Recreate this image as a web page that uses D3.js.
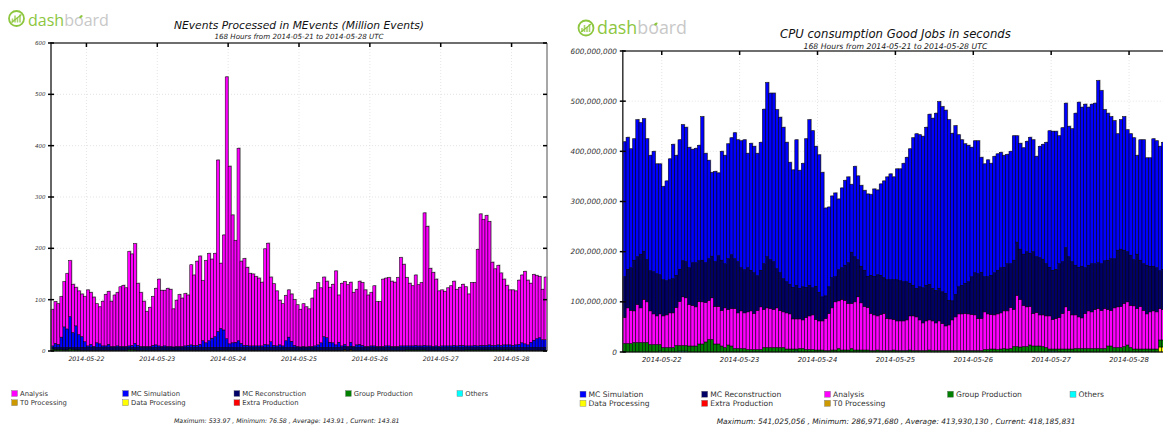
<!DOCTYPE html>
<html>
<head>
<meta charset="utf-8">
<script src="https://cdn.jsdelivr.net/npm/d3@7"></script>
<style>
body{margin:0;background:#fff;}
svg{display:block;}
text{font-family:"DejaVu Sans",sans-serif;}
</style>
</head>
<body>
<svg id="chart" width="1163" height="427"></svg>
<script>
// 168 hourly bins, 2014-05-21 12:00 -> 2014-05-28 12:00 UTC
var startHour = "2014-05-21T12:00:00Z";
var nbHours = 168;
var dayLabels = ["2014-05-22","2014-05-23","2014-05-24","2014-05-25","2014-05-26","2014-05-27","2014-05-28"];

// ---- NEvents (MEvents) ----
var leftAnalysis = [
 71,81,79,79,88,108,109,94,75,85,83,88,109,101,96,76,72,87,100,103,88,100,104,116,
 119,114,184,178,194,121,105,88,68,76,95,110,130,109,108,113,111,74,90,101,94,102,98,156,
 137,164,172,117,160,170,154,162,334,127,185,510,346,249,198,375,160,169,152,141,140,135,132,124,
 186,198,126,120,107,87,82,88,92,92,89,81,73,83,78,73,94,109,121,107,116,110,107,114,
 144,92,122,122,120,117,105,108,123,122,110,100,104,117,87,87,131,132,133,127,125,134,172,159,
 133,122,117,137,119,123,258,233,151,144,130,108,109,106,113,117,125,110,113,119,115,101,123,122,
 188,256,245,253,240,162,149,155,141,128,116,107,108,105,125,132,141,126,115,128,123,119,98,122];
var leftSim = [
 3,8,6,20,40,36,60,29,42,25,21,11,3,6,2,9,7,3,3,6,2,2,3,2,
 2,2,3,4,8,4,2,2,2,2,4,5,3,2,3,2,2,1,2,2,2,3,4,5,
 4,4,6,13,9,13,18,21,31,37,34,17,7,9,10,13,8,4,4,3,3,3,3,3,
 6,5,11,4,3,5,3,13,20,12,4,2,1,2,1,2,2,3,5,9,21,19,10,9,
 5,10,3,4,2,8,2,5,6,4,2,2,3,3,2,2,2,3,3,2,2,2,3,3,
 3,3,3,4,3,3,4,3,3,2,3,2,3,3,3,3,4,3,4,4,3,3,3,4,
 3,4,4,4,5,4,4,5,4,5,5,5,4,5,6,9,7,5,10,14,17,19,15,15];
var leftReco = [
 3,4,4,4,5,5,3,4,5,5,6,6,6,6,6,6,6,6,6,6,6,6,6,6,
 6,6,4,4,5,6,6,6,6,6,6,6,6,6,6,6,6,6,6,6,6,6,6,6,
 6,6,6,6,6,6,6,6,6,6,6,6,6,6,6,6,6,6,6,6,6,6,6,6,
 6,6,6,6,6,6,6,6,6,6,6,6,6,6,6,6,6,6,6,6,6,6,6,6,
 6,6,6,6,6,6,6,6,6,6,6,6,6,6,6,6,6,6,6,6,6,6,6,6,
 5,5,5,5,5,5,5,6,6,6,6,6,6,6,6,6,6,6,6,6,5,5,5,5,
 5,5,5,5,5,5,5,5,5,5,5,5,5,6,6,6,6,6,6,6,6,6,6,6];
var leftGroup = [
 4,3,3,3,2,2,4,3,2,2,1,1,1,1,1,1,1,1,1,1,1,1,1,1,
 1,1,3,3,2,1,1,1,1,1,1,1,1,1,1,1,1,1,1,1,1,1,1,1,
 1,1,1,1,1,1,1,1,1,1,1,1,1,1,1,1,1,1,1,1,1,1,1,1,
 1,1,1,1,1,1,1,1,1,1,1,1,1,1,1,1,1,1,1,1,1,1,1,1,
 1,1,1,1,1,1,1,1,1,1,1,1,1,1,1,1,1,1,1,1,1,1,1,1,
 2,2,2,2,2,2,2,1,1,1,1,1,1,1,1,1,1,1,1,1,2,2,2,2,
 2,2,2,2,2,2,2,2,2,2,2,2,2,1,1,1,1,1,1,1,1,1,1,1];
var leftT0Hours = [99, 101];
var leftT0Values = [2, 2];

// ---- CPU consumption (millions of seconds) ----
var rightSim = [
 269,263,237,242,273,262,264,241,230,240,219,221,186,199,241,268,239,258,271,268,240,226,228,230,
 286,218,196,167,180,165,217,216,229,233,251,243,253,259,228,253,252,244,255,308,347,332,336,317,
 310,302,278,243,234,290,235,246,296,330,313,279,274,248,175,159,163,167,141,159,169,171,135,180,
 167,161,159,164,161,174,169,182,193,205,211,205,221,223,236,248,268,294,308,303,302,315,339,339,
 353,372,369,365,360,334,336,303,290,278,272,258,263,265,229,225,233,223,232,232,230,223,218,224,
 248,212,211,212,220,231,223,200,222,229,242,272,277,275,255,267,288,260,265,303,329,317,326,315,
 318,320,363,345,301,293,283,275,232,258,266,243,242,243,197,240,247,214,216,254,253,248,253,253];
var rightReco = [
 81,77,85,101,95,107,96,84,80,84,84,78,72,68,66,68,64,64,72,72,73,85,88,81,
 83,79,83,83,89,101,100,88,101,107,99,102,86,86,88,81,81,69,73,91,102,97,95,78,
 75,66,62,59,63,67,61,66,60,61,54,66,57,48,45,53,60,50,62,63,70,81,102,90,
 74,73,72,62,76,77,82,78,71,77,78,79,82,80,78,76,65,61,57,66,70,71,71,65,
 65,65,63,65,49,38,45,54,57,60,64,75,84,89,92,70,74,78,84,87,90,87,94,87,
 98,106,100,102,110,106,123,111,114,111,104,97,98,98,107,103,118,107,106,99,99,103,91,91,
 96,91,91,93,95,98,103,98,113,114,106,100,100,92,108,92,93,97,91,89,88,75,80,80];
var rightAnalysis = [
 52,71,66,63,76,69,86,81,67,61,57,61,63,65,69,69,76,88,97,95,83,81,78,85,
 84,79,78,83,75,75,71,79,71,75,80,71,75,71,75,77,72,78,85,76,79,78,76,79,
 74,71,72,70,60,60,59,57,64,67,69,61,58,58,64,74,84,96,95,101,99,93,90,96,
 106,94,87,85,74,71,68,72,74,64,63,61,59,59,59,61,68,69,67,61,55,59,60,59,
 55,59,54,49,51,61,67,73,73,74,73,72,71,64,64,75,71,69,68,71,72,75,76,82,
 74,102,95,82,79,77,65,67,62,63,63,66,59,61,63,71,84,77,68,67,63,61,70,75,
 73,78,80,76,80,73,71,79,81,82,86,86,84,86,81,85,77,70,74,76,74,63,61,61];
var rightGroup = [
 17,17,17,19,19,19,19,19,15,15,15,13,9,9,9,9,13,11,11,11,12,12,12,16,
 16,20,25,25,16,16,12,9,14,12,7,7,7,7,5,5,5,5,5,9,9,9,9,9,
 9,9,6,6,6,4,7,7,5,5,5,4,4,4,3,3,4,4,7,4,4,4,7,4,
 4,4,4,4,3,3,4,3,3,3,3,4,3,3,3,3,4,3,3,3,3,3,4,3,
 3,3,3,3,3,3,3,3,3,3,3,3,3,3,3,5,5,6,6,5,6,7,6,7,
 11,11,10,11,11,14,12,12,12,11,9,4,4,4,6,6,6,6,6,7,7,7,7,7,
 7,7,7,7,7,12,12,9,9,9,11,14,9,6,6,6,6,6,6,6,6,14,14,14];
var rightOthersHours = [11, 17, 18, 19, 53, 131, 132, 133];
var rightOthersValues = [2, 2, 2, 2, 2, 2, 2, 2];
var rightDataHours = [165, 166, 167];
var rightDataValues = [10, 10, 10];

var leftTicks = [0, 100, 200, 300, 400, 500, 600];
var rightTicks = [0, 100, 200, 300, 400, 500, 600]; // millions

var colors = {
  analysis: "#ff00ff", sim: "#0000ff", reco: "#000066", group: "#008000",
  others: "#00ffff", t0: "#cc9900", data: "#ffff00", extra: "#ff0000"
};
var names = {
  analysis: "Analysis", sim: "MC Simulation", reco: "MC Reconstruction", group: "Group Production",
  others: "Others", t0: "T0 Processing", data: "Data Processing", extra: "Extra Production"
};
var leftLegend = [["analysis","sim","reco","group","others"],["t0","data","extra"]];
var rightLegend = [["sim","reco","analysis","group","others"],["data","extra","t0"]];

var leftStats = "Maximum: 533.97 , Minimum: 76.58 , Average: 143.91 , Current: 143.81";
var rightStats = "Maximum: 541,025,056 , Minimum: 286,971,680 , Average: 413,930,130 , Current: 418,185,831";

var svg = d3.select("#chart");
var t0 = new Date(startHour);
var hourList = d3.utcHour.range(t0, d3.utcHour.offset(t0, nbHours));

function sparse(idx, vals) {
  var a = hourList.map(function(){ return 0; });
  idx.forEach(function(h, j){ a[h] = vals[j]; });
  return a;
}

function fitWidth(sel, w) {
  var len = sel.node().getComputedTextLength();
  var fs = parseFloat(sel.attr("font-size"));
  sel.attr("font-size", (fs * w / len).toFixed(2));
}

function drawLogo(cx, cy, tx, ty, tw) {
  var g = svg.append("g");
  g.append("circle").attr("cx", cx).attr("cy", cy).attr("r", 7.5)
    .attr("fill", "none").attr("stroke", "#8dc63f").attr("stroke-width", 1.8);
  [-4, -1.5, 1, 3.5].forEach(function(dx, k){
    var h = [4, 7, 5, 8][k];
    g.append("rect").attr("x", cx + dx - 0.8).attr("y", cy + 4 - h).attr("width", 1.6).attr("height", h)
      .attr("fill", "#a8d46a");
  });
  g.append("line").attr("x1", cx - 5).attr("y1", cy + 4).attr("x2", cx + 5).attr("y2", cy - 4)
    .attr("stroke", "#8dc63f").attr("stroke-width", 1.2);
  var t = g.append("text").attr("x", tx).attr("y", ty).attr("font-size", 16)
    .style("font-family", "'Open Sans', sans-serif");
  t.append("tspan").attr("fill", "#8dc63f").text("dash");
  t.append("tspan").attr("fill", "#c8c8c8").text("board");
  fitWidth(t, tw);
  // little green leaf on the "o" of board
  var box = t.node().getExtentOfChar(5);
  g.append("ellipse").attr("cx", box.x + box.width * 0.72).attr("cy", box.y + box.height * 0.36)
    .attr("rx", 1.9).attr("ry", 1.2).attr("fill", "#8dc63f")
    .attr("transform", "rotate(-35," + (box.x + box.width * 0.72) + "," + (box.y + box.height * 0.36) + ")");
}

function drawPanel(cfg) {
  var rows = hourList.map(function(t, i){
    var r = {time: t};
    cfg.series.forEach(function(s){ r[s.key] = s.values[i]; });
    return r;
  });
  var keys = cfg.series.map(function(s){ return s.key; });

  var x = d3.scaleUtc().domain([t0, d3.utcHour.offset(t0, nbHours)]).range([cfg.x0, cfg.x1]);
  var y = d3.scaleLinear().domain([0, cfg.max]).range([cfg.yBottom, cfg.yTop]);
  var days = dayLabels.map(function(d){ return new Date(d + "T00:00:00Z"); });

  var g = svg.append("g");

  // grid
  g.selectAll("line.hg").data(cfg.ticks.slice(1, -1)).join("line")
    .attr("x1", cfg.x0).attr("x2", cfg.x1).attr("y1", function(d){ return y(d); }).attr("y2", function(d){ return y(d); })
    .attr("stroke", "#d8d8d8").attr("stroke-width", 0.7).attr("stroke-dasharray", "1,2");
  g.selectAll("line.vg").data(days).join("line")
    .attr("x1", function(d){ return x(d); }).attr("x2", function(d){ return x(d); })
    .attr("y1", cfg.yTop).attr("y2", cfg.yBottom)
    .attr("stroke", "#d8d8d8").attr("stroke-width", 0.7).attr("stroke-dasharray", "1,2");

  var layers = d3.stack().keys(keys)(rows);
  var top = layers[layers.length - 1];

  // light grey shadow behind the stacked bars
  g.append("g").selectAll("rect").data(top).join("rect")
    .attr("x", function(d){ return x(d.data.time) + 0.8; })
    .attr("width", function(d){ return x(d3.utcHour.offset(d.data.time, 1)) - x(d.data.time); })
    .attr("y", function(d){ return y(d[1]) - 0.8; })
    .attr("height", function(d){ return cfg.yBottom - y(d[1]); })
    .attr("fill", "#b0b0b0");

  // bars
  g.selectAll("g.layer").data(layers).join("g")
    .attr("fill", function(d){ return colors[d.key]; })
    .selectAll("rect").data(function(d){ return d.filter(function(p){ return p[1] > p[0]; }); }).join("rect")
    .attr("x", function(d){ return x(d.data.time); })
    .attr("width", function(d){ return x(d3.utcHour.offset(d.data.time, 1)) - x(d.data.time); })
    .attr("y", function(d){ return y(d[1]); })
    .attr("height", function(d){ return y(d[0]) - y(d[1]); })
    .attr("stroke", "#000").attr("stroke-width", 0.5);

  // frame
  g.append("line").attr("x1", cfg.x0).attr("x2", cfg.x1).attr("y1", cfg.yTop).attr("y2", cfg.yTop)
    .attr("stroke", "#6e6e6e").attr("stroke-width", 2);
  g.append("line").attr("x1", cfg.x1).attr("x2", cfg.x1).attr("y1", cfg.yTop).attr("y2", cfg.yBottom)
    .attr("stroke", "#8a8a8a").attr("stroke-width", 1.5);
  g.append("line").attr("x1", cfg.x0).attr("x2", cfg.x0).attr("y1", cfg.yTop - 1).attr("y2", cfg.yBottom)
    .attr("stroke", "#333").attr("stroke-width", 1.5);
  g.append("line").attr("x1", cfg.x0).attr("x2", cfg.x1).attr("y1", cfg.yBottom).attr("y2", cfg.yBottom)
    .attr("stroke", "#111").attr("stroke-width", 1);

  // ticks
  g.selectAll("line.tt").data(days).join("line")
    .attr("x1", function(d){ return x(d); }).attr("x2", function(d){ return x(d); })
    .attr("y1", cfg.yTop).attr("y2", cfg.yTop + 4).attr("stroke", "#000").attr("stroke-width", 1.5);
  g.selectAll("line.rt").data(cfg.ticks).join("line")
    .attr("x1", cfg.x1 - 4).attr("x2", cfg.x1).attr("y1", function(d){ return y(d); }).attr("y2", function(d){ return y(d); })
    .attr("stroke", "#000").attr("stroke-width", 1.5);
  g.selectAll("line.lt").data(cfg.ticks).join("line")
    .attr("x1", cfg.x0 - 3).attr("x2", cfg.x0 + 3).attr("y1", function(d){ return y(d); }).attr("y2", function(d){ return y(d); })
    .attr("stroke", "#000").attr("stroke-width", 1.5);

  // labels
  g.selectAll("text.yl").data(cfg.ticks).join("text")
    .attr("x", cfg.yLabelX).attr("y", function(d){ return y(d) + cfg.yFont * 0.36; })
    .attr("text-anchor", "end").attr("font-size", cfg.yFont).attr("font-style", "italic").attr("fill", "#333")
    .text(cfg.yFormat);
  g.selectAll("text.xl").data(days).join("text")
    .attr("x", function(d){ return x(d); }).attr("y", cfg.xLabelY)
    .attr("text-anchor", "middle").attr("font-size", cfg.xFont).attr("font-style", "italic").attr("fill", "#222")
    .text(d3.utcFormat("%Y-%m-%d"));

  // titles
  var mid = (cfg.x0 + cfg.x1) / 2;
  var title = g.append("text").attr("x", mid).attr("y", cfg.titleY).attr("text-anchor", "middle")
    .attr("font-size", 11).attr("font-style", "italic").attr("fill", "#111").text(cfg.title);
  fitWidth(title, cfg.titleW);
  var sub = g.append("text").attr("x", mid).attr("y", cfg.subY).attr("text-anchor", "middle")
    .attr("font-size", 7).attr("font-style", "italic").attr("fill", "#222").text(cfg.subtitle);
  fitWidth(sub, cfg.subW);

  // legend
  cfg.legend.forEach(function(row, ri){
    row.forEach(function(key, ci){
      var lx = cfg.legendX[ci], ly = cfg.legendY[ri];
      g.append("rect").attr("x", lx).attr("y", ly - cfg.sw / 2).attr("width", cfg.sw).attr("height", cfg.sw)
        .attr("fill", colors[key]).attr("stroke", "#777").attr("stroke-width", 0.4);
      g.append("text").attr("x", lx + cfg.sw + 2.5).attr("y", ly + cfg.legendFont * 0.36)
        .attr("font-size", cfg.legendFont).attr("fill", "#333").text(names[key]);
    });
  });

  var st = g.append("text").attr("x", cfg.statsX).attr("y", cfg.statsY)
    .attr("font-size", 7).attr("font-style", "italic").attr("fill", "#222").text(cfg.stats);
  fitWidth(st, cfg.statsW);
}

drawLogo(16.5, 18.5, 28, 25.7, 81);
drawLogo(586, 28, 597, 34.3, 90);

drawPanel({
  series: [
    {key: "t0", values: sparse(leftT0Hours, leftT0Values)},
    {key: "group", values: leftGroup},
    {key: "reco", values: leftReco},
    {key: "sim", values: leftSim},
    {key: "analysis", values: leftAnalysis}
  ],
  x0: 51, x1: 547, yTop: 43, yBottom: 351, max: 600, ticks: leftTicks,
  yFormat: d3.format("d"), yLabelX: 45.5, yFont: 5.5, xFont: 6.2, xLabelY: 360.6,
  title: "NEvents Processed in MEvents (Million Events)", titleY: 29, titleW: 250,
  subtitle: "168 Hours from 2014-05-21 to 2014-05-28 UTC", subY: 39, subW: 169,
  legend: leftLegend, legendX: [11.7, 122.7, 234, 345.5, 457], legendY: [393.5, 402.7], sw: 5.8, legendFont: 6.8,
  stats: leftStats, statsX: 174, statsY: 423.3, statsW: 226
});

drawPanel({
  series: [
    {key: "data", values: sparse(rightDataHours, rightDataValues)},
    {key: "others", values: sparse(rightOthersHours, rightOthersValues)},
    {key: "group", values: rightGroup},
    {key: "analysis", values: rightAnalysis},
    {key: "reco", values: rightReco},
    {key: "sim", values: rightSim}
  ],
  x0: 622.8, x1: 1168, yTop: 51, yBottom: 352, max: 600, ticks: rightTicks,
  yFormat: function(d){ return d3.format(",")(d * 1e6); }, yLabelX: 617, yFont: 7.3, xFont: 6.8, xLabelY: 361.8,
  title: "CPU consumption Good Jobs in seconds", titleY: 37.5, titleW: 231,
  subtitle: "168 Hours from 2014-05-21 to 2014-05-28 UTC", subY: 48.6, subW: 184,
  legend: rightLegend, legendX: [580, 701.7, 824.5, 947.5, 1070], legendY: [394.2, 403.3], sw: 6, legendFont: 7.6,
  stats: rightStats, statsX: 716.7, statsY: 423.5, statsW: 359
});
</script>
</body>
</html>
